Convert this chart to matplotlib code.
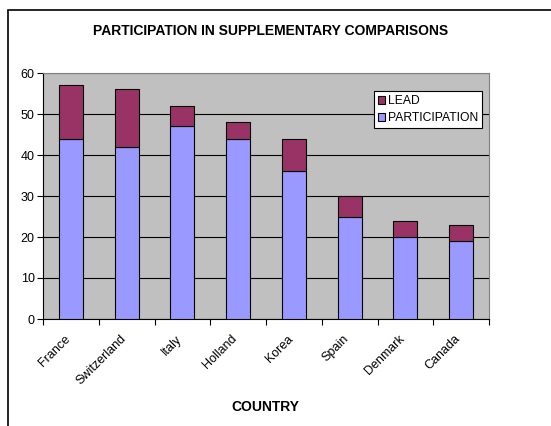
import matplotlib
matplotlib.use("Agg")
import matplotlib.pyplot as plt
import matplotlib.transforms as mtransforms
import numpy as np

countries = ["France", "Switzerland", "Italy", "Holland", "Korea", "Spain", "Denmark", "Canada"]
participation = [44, 42, 47, 44, 36, 25, 20, 19]
lead = [13, 14, 5, 4, 8, 5, 4, 4]

plt.rcParams["font.family"] = ["Liberation Sans", "DejaVu Sans"]

fig = plt.figure(figsize=(5.51, 4.26), dpi=100)
ax = fig.add_axes([43 / 551, 1 - 319 / 426, (489 - 43) / 551, (319 - 73) / 426])

# outer chart frame
fig.patches.append(plt.Rectangle((8 / 551, -0.1), 1.2, 1 - 10 / 426 + 0.1,
                                 transform=fig.transFigure, fill=False,
                                 edgecolor="black", linewidth=1.2))

x = np.arange(len(countries))
w = 0.43
ax.bar(x, participation, w, color="#9999FF", edgecolor="black", linewidth=0.8,
       label="PARTICIPATION", zorder=3)
ax.bar(x, lead, w, bottom=participation, color="#993366", edgecolor="black",
       linewidth=0.8, label="LEAD", zorder=3)

ax.set_facecolor("#C0C0C0")
ax.set_xlim(-0.5, len(countries) - 0.5)
ax.set_ylim(0, 60)
ax.set_yticks(range(0, 61, 10))
ax.yaxis.grid(True, color="black", linewidth=0.8, zorder=1)
ax.set_axisbelow(True)

ax.set_xticks(np.arange(-0.5, len(countries), 1.0))
ax.set_xticklabels([])
ax.set_xticks(x, minor=True)
ax.set_xticklabels(countries, minor=True, rotation=45, ha="right", va="top",
                   rotation_mode="anchor", fontsize=9)
ax.tick_params(axis="x", which="minor", length=0, pad=10)
ax.tick_params(axis="x", which="major", length=4, width=0.8, direction="out")
ax.tick_params(axis="y", length=4, width=0.8, labelsize=9, pad=2)

# nudge the slanted country names left, like the spreadsheet layout
shift = mtransforms.ScaledTranslation(-7 / 100, 0, fig.dpi_scale_trans)
for lbl in ax.get_xticklabels(minor=True):
    lbl.set_transform(lbl.get_transform() + shift)

for s in ("top", "right"):
    ax.spines[s].set_color("#808080")
    ax.spines[s].set_linewidth(0.8)
for s in ("left", "bottom"):
    ax.spines[s].set_color("black")
    ax.spines[s].set_linewidth(0.8)

handles, labels = ax.get_legend_handles_labels()
leg = ax.legend(handles[::-1], labels[::-1], loc="upper left",
                bbox_to_anchor=((374 - 43) / 446, (319 - 91) / 246),
                fontsize=8.7, frameon=True, fancybox=False, framealpha=1,
                edgecolor="black", handlelength=0.6, handleheight=0.6,
                handletextpad=0.2, borderpad=0.35, labelspacing=0.4,
                borderaxespad=0)
leg.get_frame().set_linewidth(0.8)

fig.text(271 / 551, 1 - 31 / 426, "PARTICIPATION IN SUPPLEMENTARY COMPARISONS",
         ha="center", va="center", fontsize=10, fontweight="bold")
fig.text(265 / 551, 1 - 407 / 426, "COUNTRY", ha="center", va="center",
         fontsize=10, fontweight="bold")

fig.savefig("out.png", dpi=100)
